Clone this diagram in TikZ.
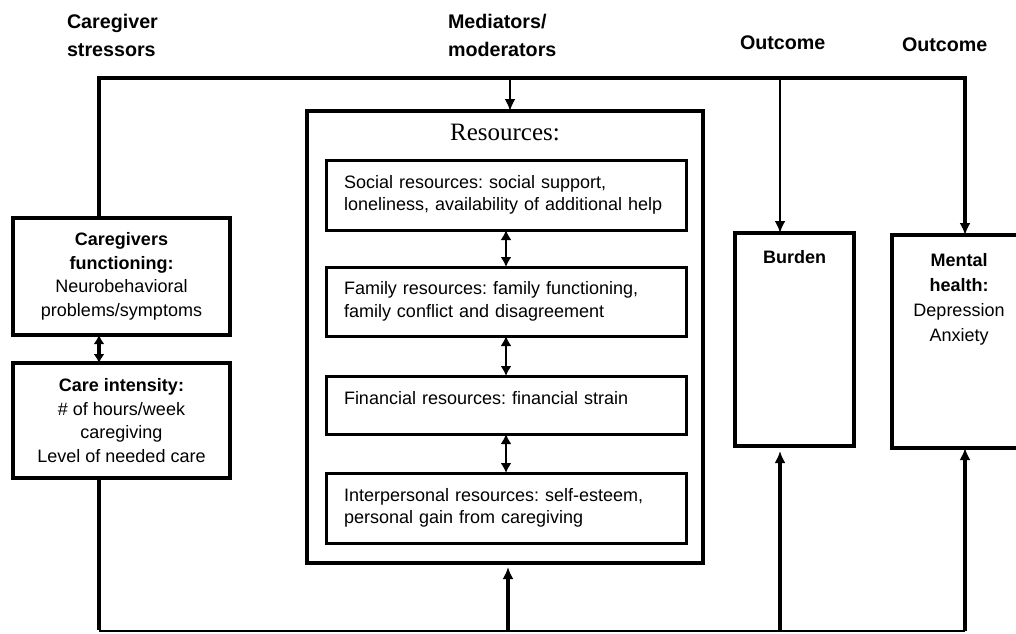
\documentclass[tikz,border=0pt]{standalone}
\usepackage{fontspec}
\setmainfont{Liberation Sans}
\newfontfamily\resserif{Liberation Serif}
\usetikzlibrary{arrows.meta}
\frenchspacing
\begin{document}
\begin{tikzpicture}[x=1pt,y=-1pt,
  every node/.style={inner sep=0pt, outer sep=0pt},
  heading/.style={font=\fontsize{19.7}{28}\selectfont\bfseries, align=left, anchor=north west},
  boxfont/.style={font=\fontsize{18}{23.5}\selectfont},
  lbox/.style={draw, line width=4pt, boxfont, align=center},
  outerbox/.style={draw, line width=4.5pt},
  ibox/.style={draw, line width=3pt, minimum width=360, text width=324pt, inner xsep=18pt, align=left, font=\fontsize{18}{22.5}\selectfont\frenchspacing},
  obox/.style={draw, line width=4.5pt},
  btext/.style={boxfont, align=center},
  thickln/.style={line width=4.5pt, line join=miter},
  thinln/.style={line width=2.5pt},
  midln/.style={line width=3.5pt},
  arr/.style={-{Latex[length=12pt,width=11pt]}},
  dblarr/.style={{Latex[length=10pt,width=11pt]}-{Latex[length=10pt,width=11pt]}, line width=2pt},
  dblthick/.style={{Latex[length=9pt,width=11pt]}-{Latex[length=9pt,width=11pt]}, line width=3.5pt}
]
\useasboundingbox (0,0) rectangle (1016,633);

% headings
\node[heading] (hstress) at (67,14) {Caregiver\\stressors};
\node[heading] (hmed) at (448,14) {Mediators/\\moderators};
\node[heading] (hout1) at (740,36) {Outcome};
\node[heading] (hout2) at (902,38) {Outcome};

% left boxes
\node[lbox, minimum width=217, minimum height=117] (cf) at (121.5,276.5)
  {\textbf{Caregivers}\\\textbf{functioning:}\\Neurobehavioral\\problems/symptoms};
\node[lbox, minimum width=217, minimum height=115] (ci) at (121.5,420.5)
  {\textbf{Care intensity:}\\\# of hours/week\\caregiving\\Level of needed care};

% resources
\node[outerbox, minimum width=396, minimum height=452] (res) at (505,337) {};
\node[font=\resserif\fontsize{25}{30}\selectfont, anchor=base] (restitle) at (505,140) {Resources:};
\node[ibox, minimum height=70] (soc) at (506,195)
  {Social resources: social support,\\loneliness, availability of additional help};
\node[ibox, minimum height=69] (fam) at (506,301.5)
  {Family resources: family functioning,\\family conflict and disagreement};
\node[ibox, minimum height=58, text depth=14pt] (fin) at (506,405)
  {Financial resources: financial strain};
\node[ibox, minimum height=70] (inter) at (506,508)
  {Interpersonal resources: self-esteem,\\personal gain from caregiving};

% outcomes
\node[obox, minimum width=119, minimum height=213] (bu) at (794.5,339.5) {};
\node[btext, font=\fontsize{18}{23.5}\selectfont\bfseries] (bu-t) at (794.5,257) {Burden};
\node[obox, minimum width=134, minimum height=213] (mh) at (959,341.5) {};
\node[btext, anchor=north, font=\fontsize{18}{25}\selectfont] (mh-t) at (959,253)
  {\textbf{Mental}\\\textbf{health:}\\Depression\\Anxiety};

% coordinates
\coordinate (tl) at (99,78);
\coordinate (tr) at (965,78);
\coordinate (tres) at (510,78);
\coordinate (tbu) at (780,78);
\coordinate (bl) at (99,631);
\coordinate (br) at (965,631);
\coordinate (bres) at (508,631);
\coordinate (bbu) at (780,631);

% top connectors
\draw[thickln, arr] (cf.north -| tl) -- (tl) -- (tr) -- (mh.north -| tr);
\draw[thinln, arr] (tres) -- (res.north -| tres);
\draw[thinln, arr] (tbu) -- (bu.north -| tbu);

% bottom connectors
\draw[thickln] (ci.south -| bl) -- ([yshift=1.5pt]bl);
\draw[thinln] (bl) -- (br);
\draw[midln, arr, shorten >=4pt] (bres) -- (res.south -| bres);
\draw[midln, arr, shorten >=5pt] (bbu) -- (bu.south -| bbu);
\draw[midln, arr] (br) -- (mh.south -| br);

% double arrows
\draw[dblthick] (cf.south -| tl) -- (ci.north -| tl);
\draw[dblarr] (soc.south) -- (fam.north);
\draw[dblarr] (fam.south) -- (fin.north);
\draw[dblarr] (fin.south) -- (inter.north);
\end{tikzpicture}
\end{document}
